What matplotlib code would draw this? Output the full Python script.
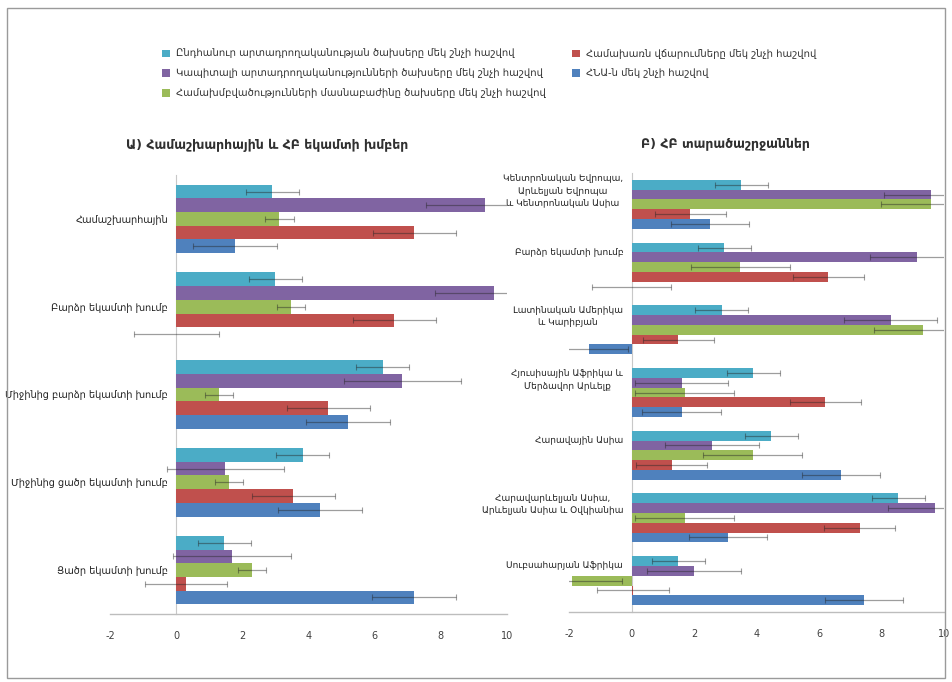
import matplotlib
matplotlib.use("Agg")
import matplotlib.pyplot as plt
from matplotlib.patches import Rectangle, Patch
import numpy as np

plt.rcParams['font.family'] = ['DejaVu Sans']

series_names = [
    "Ընդհանուր արտադրողականության ծախսերը մեկ շնչի հաշվով",
    "Կապիտալի արտադրողականությունների ծախսերը մեկ շնչի հաշվով",
    "Համախմբվածությունների մասնաբաժինը ծախսերը մեկ շնչի հաշվով",
    "Համախառն վճարումները մեկ շնչի հաշվով",
    "ՀՆԱ-ն մեկ շնչի հաշվով",
]
colors = ["#4BACC6", "#8064A2", "#9BBB59", "#C0504D", "#4F81BD"]

# Panel A
left_title = "Ա) Համաշխարհային և ՀԲ եկամտի խմբեր"
left_cats = ["Համաշխարհային", "Բարձր եկամտի խումբ", "Միջինից բարձր եկամտի խումբ",
             "Միջինից ցածր եկամտի խումբ", "Ցածր եկամտի խումբ"]
left_cyan = [2.9, 3.0, 6.25, 3.82, 1.45]
left_purple = [9.32, 9.6, 6.84, 1.49, 1.68]
left_green = [3.12, 3.47, 1.29, 1.59, 2.29]
left_red = [7.2, 6.59, 4.6, 3.54, 0.3]
left_blue = [1.79, 0.01, 5.2, 4.34, 7.2]
left_err = [0.8, 1.78, 0.43, 1.25, 1.27]

# Panel B
right_title = "Բ) ՀԲ տարածաշրջաններ"
right_cats = ["Կենտրոնական Եվրոպա,\nԱրևելյան Եվրոպա\nև Կենտրոնական Ասիա",
              "Բարձր եկամտի խումբ",
              "Լատինական Ամերիկա\nև Կարիբյան",
              "Հյուսիսային Աֆրիկա և\nՄերձավոր Արևելք",
              "Հարավային Ասիա",
              "Հարավարևելյան Ասիա,\nԱրևելյան Ասիա և Օվկիանիա",
              "Սուբսահարյան Աֆրիկա"]
right_cyan = [3.51, 2.97, 2.89, 3.9, 4.47, 8.53, 1.5]
right_purple = [9.57, 9.12, 8.29, 1.6, 2.58, 9.7, 2.0]
right_green = [9.57, 3.48, 9.33, 1.7, 3.88, 1.7, -1.9]
right_red = [1.88, 6.3, 1.5, 6.2, 1.28, 7.3, 0.05]
right_blue = [2.5, 0.0, -1.37, 1.6, 6.7, 3.1, 7.45]
right_err = [0.85, 1.5, 1.58, 1.14, 1.25]

xticks = [-2, 0, 2, 4, 6, 8, 10]

W, H = 952, 682
fig = plt.figure(figsize=(W / 100, H / 100), dpi=100)
fig.patch.set_facecolor("white")
fig.patches.append(Rectangle((7 / W, 4 / H), 938 / W, 670 / H, transform=fig.transFigure,
                             fill=False, edgecolor="#9a9a9a", lw=1.0))


def draw_panel(rect, cats, data, errs, title, label_offset, label_fs, title_x):
    ax = fig.add_axes(rect)
    n = len(cats)
    h = 0.156
    idx = np.arange(n)
    for j, (vals, col, e) in enumerate(zip(data, colors, errs)):
        y = idx + (j - 2) * h
        ax.barh(y, vals, height=h, color=col, edgecolor="none", zorder=2)
        ax.errorbar(vals, y, xerr=e, fmt="none", ecolor=(0.15, 0.15, 0.15, 0.45),
                    elinewidth=0.9, capsize=2, capthick=0.8, zorder=3)
    ax.set_ylim(n - 0.5, -0.5)
    ax.set_xlim(-2, 10)
    for s in ["top", "right"]:
        ax.spines[s].set_visible(False)
    ax.spines["left"].set_position(("data", 0))
    ax.spines["left"].set_color("#c8c8c8")
    ax.spines["left"].set_linewidth(0.8)
    ax.spines["left"].set_zorder(1)
    ax.spines["bottom"].set_color("#bdbdbd")
    ax.spines["bottom"].set_linewidth(1.0)
    ax.set_xticks(xticks)
    ax.set_xticklabels([str(t) for t in xticks], fontsize=7, color="#404040")
    ax.tick_params(axis="x", length=0, pad=12)
    ax.set_yticks(idx - label_offset)
    ax.set_yticklabels(cats, fontsize=label_fs, color="#202020", linespacing=1.45)
    for lab in ax.get_yticklabels():
        lab.set_horizontalalignment("right")
        lab.set_multialignment("center")
    ax.tick_params(axis="y", length=0, pad=6)
    fig.text(title_x, 1 - 145 / H, title, ha="center", va="center", fontsize=9,
             fontweight="bold", color="#303030")
    return ax


axL = draw_panel([110 / W, 1 - 614 / H, 397 / W, 439 / H], left_cats,
                 [left_cyan, left_purple, left_green, left_red, left_blue], left_err,
                 left_title, 0.0, 7, 267 / W)
axR = draw_panel([569 / W, 1 - 612 / H, 375 / W, 439 / H], right_cats,
                 [right_cyan, right_purple, right_green, right_red, right_blue], right_err,
                 right_title, 0.25, 6.5, 725 / W)

handles = [Patch(facecolor=c, edgecolor="none") for c in colors]
leg = fig.legend(handles, series_names, ncol=2, loc="upper left",
                 bbox_to_anchor=(153 / W, 1 - 40 / H), frameon=False,
                 fontsize=7.2, handlelength=0.8, handleheight=0.8, handletextpad=0.6,
                 columnspacing=2.6, labelspacing=0.95)
for t in leg.get_texts():
    t.set_color("#303030")

fig.savefig("out.png", dpi=100)
